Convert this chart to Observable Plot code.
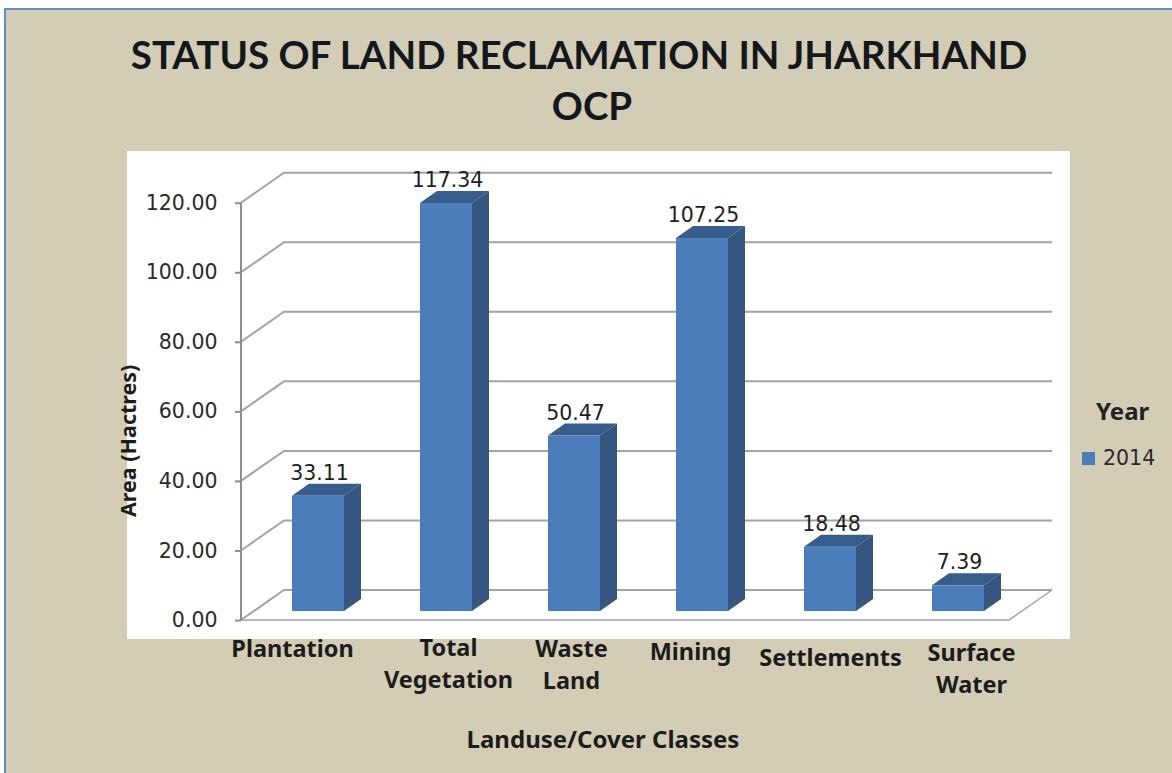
<!DOCTYPE html>
<html>
<head>
<meta charset="utf-8">
<script src="https://cdn.jsdelivr.net/npm/d3@7"></script>
<script src="https://cdn.jsdelivr.net/npm/@observablehq/plot@0.6"></script>
<style>
  html, body { margin: 0; padding: 0; background: #fff; overflow: hidden; }
  #page { position: relative; width: 1172px; height: 773px; overflow: hidden; }
  #sheet { position: absolute; left: 4px; top: 8px; width: 1200px; height: 800px; background: #d3cdb5;
           border-left: 2px solid #5b8dcf; border-top: 2px solid #5b8dcf; }
  #panel { position: absolute; left: 127px; top: 151px; width: 943px; height: 488px; background: #fff; }
  #chart { position: absolute; left: 0; top: 0; }
  #chart svg { background: transparent; display: block; }
  #title { position: absolute; left: 0; top: 29px; width: 1158px; text-align: center; margin: 0;
           font: 700 38.5px/51px Lato, sans-serif; color: #14181c; white-space: nowrap; }
  #title span { position: relative; left: 13px; }
  #legendTitle { position: absolute; left: 1096px; top: 394px; font: 700 24px "Noto Sans", sans-serif; color: #222; }
  #legendSwatch { position: absolute; left: 1082px; top: 452px; width: 13px; height: 13px; background: #4b7dbb; }
  #legendLabel { position: absolute; left: 1103px; top: 446px; font: 400 20.5px "DejaVu Sans", sans-serif; color: #2a2a2a; }
  #xTitle { position: absolute; left: 440px; top: 722px; width: 326px; text-align: center; font: 700 24px "Noto Sans", sans-serif; color: #1c1c1c; white-space: nowrap; }
</style>
</head>
<body>
<div id="page">
  <div id="sheet"></div>
  <div id="panel"></div>
  <div id="chart"></div>
  <h1 id="title">STATUS OF LAND RECLAMATION IN JHARKHAND<br><span>OCP</span></h1>
  <div id="legendTitle">Year</div>
  <div id="legendSwatch"></div>
  <div id="legendLabel">2014</div>
  <div id="xTitle">Landuse/Cover Classes</div>
</div>
<script>
const categories = ["Plantation", "Total Vegetation", "Waste Land", "Mining", "Settlements", "Surface Water"];
const tickLabels = ["Plantation", "Total\nVegetation", "Waste\nLand", "Mining", "Settlements", "Surface\nWater"];
const values = [33.11, 117.34, 50.47, 107.25, 18.48, 7.39];
const yTicks = [0, 20, 40, 60, 80, 100, 120];

const rows = categories.map((category, i) => ({category, value: values[i], tick: tickLabels[i]}));

// Style and layout settings
const wall = {dx: 43, dy: 30};
const box = {dx: 17, dy: 12, inset: 38, shiftX: 13, shiftY: 9};
const colors = {front: "#4b7dbb", side: "#34567f", top: "#375d8c", grid: "#a3a3a3", axis: "#8f8f8f"};
const labelNudge = [[-13, 0], [15, -1], [10, 0], [1, 3], [13, 9], [26, 4]];

function wallsMark(index, scales) {
  const {x, y} = scales;
  const bw = scales.scales.x.bandwidth;
  const x0 = x(categories[0]);
  const x1 = x(categories[categories.length - 1]) + bw;
  const g = d3.create("svg:g").attr("fill", "none");
  for (const t of yTicks) {
    g.append("polyline")
      .attr("points", [[x0, y(t)], [x0 + wall.dx, y(t) - wall.dy], [x1 + wall.dx, y(t) - wall.dy]].join(" "))
      .attr("stroke", colors.grid).attr("stroke-width", 2);
  }
  g.append("polyline")
    .attr("points", [[x1 + wall.dx, y(0) - wall.dy], [x1, y(0)], [x0, y(0)]].join(" "))
    .attr("stroke", colors.grid).attr("stroke-width", 1.5);
  g.append("line").attr("x1", x0).attr("x2", x0).attr("y1", y(yTicks[yTicks.length - 1])).attr("y2", y(0))
    .attr("stroke", colors.axis).attr("stroke-width", 2);
  return g.node();
}

function boxFacesMark(index, scales) {
  const {x, y} = scales;
  const bw = scales.scales.x.bandwidth;
  const g = d3.create("svg:g");
  for (const r of rows) {
    const left = x(r.category) + box.inset + box.shiftX;
    const right = x(r.category) + bw - box.inset + box.shiftX;
    const top = y(r.value) - box.shiftY;
    const base = y(0) - box.shiftY;
    g.append("polygon").attr("fill", colors.side)
      .attr("points", [[right, top], [right + box.dx, top - box.dy], [right + box.dx, base - box.dy], [right, base]].join(" "));
    g.append("polygon").attr("fill", colors.top)
      .attr("points", [[left, top], [left + box.dx, top - box.dy], [right + box.dx, top - box.dy], [right, top]].join(" "));
  }
  return g.node();
}

const plot = Plot.plot({
  width: 1172,
  height: 773,
  marginLeft: 241,
  marginRight: 163,
  marginTop: 202.7,
  marginBottom: 153,
  style: {background: "transparent", overflow: "visible"},
  x: {type: "band", domain: categories, padding: 0, axis: null},
  y: {domain: [0, 120], label: null},
  marks: [
    wallsMark,
    Plot.axisY({
      ticks: yTicks, tickFormat: d => d.toFixed(2), tickSize: 6, tickPadding: 18, label: null,
      stroke: colors.axis, strokeWidth: 2, strokeOpacity: 1,
      fontSize: 20.5, fontFamily: "DejaVu Sans", fill: "#2a2a2a"
    }),
    boxFacesMark,
    Plot.barY(rows, {
      x: "category", y: "value", fill: colors.front,
      insetLeft: box.inset, insetRight: box.inset, dx: box.shiftX, dy: -box.shiftY
    }),
    Plot.text(rows, {
      x: "category", y: "value", text: d => d.value.toFixed(2),
      dx: box.shiftX + 1, dy: -32, fontSize: 20.5, fontFamily: "DejaVu Sans", fill: "#1e1e1e"
    }),
    ...rows.map((r, i) => Plot.text([r], {
      x: "category", text: "tick", frameAnchor: "bottom", lineAnchor: "top", lineHeight: 1.36,
      dx: labelNudge[i][0], dy: 14 + labelNudge[i][1],
      fontSize: 23.5, fontWeight: 700, fontFamily: "Noto Sans", fill: "#1c1c1c"
    })),
    Plot.text(["Area (Hactres)"], {
      frameAnchor: "left", rotate: -90, textAnchor: "middle", dx: -112, dy: 29,
      fontSize: 21.5, fontWeight: 700, fontFamily: "Noto Sans", fill: "#1c1c1c"
    })
  ]
});
document.getElementById("chart").appendChild(plot);
</script>
</body>
</html>
